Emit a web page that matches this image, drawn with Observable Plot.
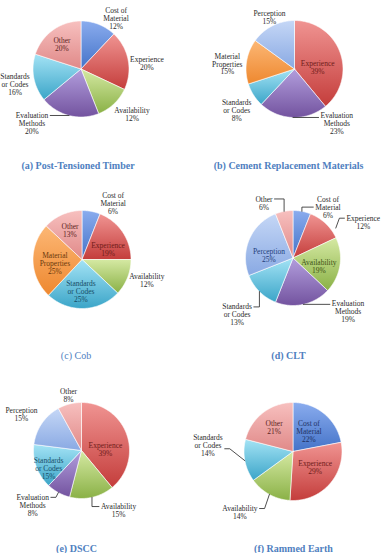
<!DOCTYPE html>
<html>
<head>
<meta charset="utf-8">
<script src="https://cdn.jsdelivr.net/npm/d3@7"></script>
<script src="https://cdn.jsdelivr.net/npm/@observablehq/plot@0.6"></script>
<style>
  body { margin: 0; background: #fff; }
  #chart svg { display: block; }
</style>
</head>
<body>
<div id="chart"></div>
<script>
// Barriers cited for each material (% of responses), listed clockwise from 12 o'clock
const panelTitles = [
  "(a) Post-Tensioned Timber",
  "(b) Cement Replacement Materials",
  "(c) Cob",
  "(d) CLT",
  "(e) DSCC",
  "(f) Rammed Earth"
];
const timberFactors = ["Cost of Material", "Experience", "Availability", "Evaluation Methods", "Standards or Codes", "Other"];
const timberShares  = [12, 20, 12, 20, 16, 20];
const cementFactors = ["Experience", "Evaluation Methods", "Standards or Codes", "Material Properties", "Perception"];
const cementShares  = [39, 23, 8, 15, 15];
const cobFactors    = ["Cost of Material", "Experience", "Availability", "Standards or Codes", "Material Properties", "Other"];
const cobShares     = [6, 19, 12, 25, 25, 13];
const cltFactors    = ["Cost of Material", "Experience", "Availability", "Evaluation Methods", "Standards or Codes", "Perception", "Other"];
const cltShares     = [6, 12, 19, 19, 13, 25, 6];
const dsccFactors   = ["Experience", "Availability", "Evaluation Methods", "Standards or Codes", "Perception", "Other"];
const dsccShares    = [39, 15, 8, 15, 15, 8];
const earthFactors  = ["Cost of Material", "Experience", "Availability", "Standards or Codes", "Other"];
const earthShares   = [22, 29, 14, 14, 21];

// how each factor name wraps in its label
const wrapped = {
  "Cost of Material": ["Cost of", "Material"],
  "Evaluation Methods": ["Evaluation", "Methods"],
  "Standards or Codes": ["Standards", "or Codes"],
  "Material Properties": ["Material", "Properties"]
};

// gradient top, gradient bottom, ink for labels sitting on the slice
const palette = {
  "Cost of Material":    ["#8aacee", "#4473c8", "#1e3163"],
  "Experience":          ["#f09492", "#c43d3b", "#6e1b19"],
  "Availability":        ["#d5e9a3", "#8ab146", "#3c5214"],
  "Evaluation Methods":  ["#b29edd", "#73539f", "#3a2460"],
  "Standards or Codes":  ["#a4e3f5", "#3ba5c8", "#174c66"],
  "Material Properties": ["#fcb775", "#ee882f", "#6a380c"],
  "Perception":          ["#c5d7f6", "#89a9e3", "#1f3d7a"],
  "Other":               ["#f7c0bf", "#e08988", "#5c2423"]
};
const categoryOrder = Object.keys(palette);

const panels = [
  {title: panelTitles[0], factors: timberFactors, shares: timberShares},
  {title: panelTitles[1], factors: cementFactors, shares: cementShares},
  {title: panelTitles[2], factors: cobFactors,    shares: cobShares},
  {title: panelTitles[3], factors: cltFactors,    shares: cltShares},
  {title: panelTitles[4], factors: dsccFactors,   shares: dsccShares},
  {title: panelTitles[5], factors: earthFactors,  shares: earthShares}
];

// panel geometry; label placement as [angle in degrees, distance in radii]
const frames = [
  {cx: 80.5, cy: 68.5, r: 48, tx: 77.5, ty: 165, bold: true,
   labels: [[34.5, 1.29], [84.8, 1.38], [132, 1.43], [222.2, 1.52], [257.2, 1.41], [321.6, 0.64]],
   leaders: {3: {kind: "h", side: 1}}},
  {cx: 294, cy: 68.5, r: 48.5, tx: 288, ty: 165, bold: true,
   labels: [[85, 0.48], [142.1, 1.42], [234.1, 1.47], [274.3, 1.39], [334.3, 1.19]],
   leaders: {1: {kind: "h", side: -1}}},
  {cx: 81.5, cy: 259, r: 49, tx: 75.5, ty: 355, bold: false,
   labels: [[29, 1.31], [69, 0.57], [107.9, 1.39], [181.8, 0.65], [261.6, 0.56], [337.5, 0.64]],
   leaders: {}},
  {cx: 292.5, cy: 257.5, r: 47.5, tx: 288, ty: 355, bold: true,
   labels: [[34.5, 1.30], [63, 1.66], [107.1, 0.57], [133.9, 1.61], [224.5, 1.68], [277.1, 0.51], [332.2, 1.31]],
   leaders: {
     0: {kind: "v", side: -1, line: 1},
     1: {kind: "d", side: -1, line: 0, from: [55, 1.1]},
     3: {kind: "h", side: -1},
     4: {kind: "v", side: 1, line: 0},
     6: {kind: "v", side: 1, line: 0}
   }},
  {cx: 81, cy: 450, r: 48, tx: 76, ty: 548, bold: true,
   labels: [[87.6, 0.5], [148.3, 1.47], [221.7, 1.53], [241.4, 0.78], [301, 1.46], [346.7, 1.18]],
   leaders: {1: {kind: "v", side: -1, line: 0}, 2: {kind: "d", side: 1, line: 0}}},
  {cx: 292.5, cy: 451, r: 49, tx: 293, ty: 548, bold: true,
   labels: [[38.7, 0.52], [126, 0.56], [221, 1.65], [274, 1.74], [321.6, 0.62]],
   leaders: {2: {kind: "d", side: 1, line: 0}, 3: {kind: "d", side: 1, line: 1.4}}}
];

const W = 381, H = 553;
const FONT = "Liberation Serif";
const FS = 7.5, LH = 8;
const rad = Math.PI / 180;
const ctx = document.createElement("canvas").getContext("2d");
ctx.font = `${FS}px '${FONT}'`;

const wedges = [], labels = [], leaders = [], titles = [];

panels.forEach((p, pi) => {
  const f = frames[pi];
  const pt = (t, k) => ({x: f.cx + k * f.r * Math.sin(t), y: f.cy - k * f.r * Math.cos(t)});
  const arcs = d3.pie().sort(null).value(d => d)(p.shares);
  arcs.forEach((a, i) => {
    const name = p.factors[i];
    const key = `${pi}-${i}`;
    const fill = `url(#fill-${categoryOrder.indexOf(name)})`;
    // wedge outline: centre, arc, back to centre
    wedges.push({key, fill, ...pt(0, 0)});
    const n = Math.max(2, Math.ceil((a.endAngle - a.startAngle) / rad));
    for (let j = 0; j <= n; j++) {
      wedges.push({key, fill, ...pt(a.startAngle + (a.endAngle - a.startAngle) * j / n, 1)});
    }
    wedges.push({key, fill, ...pt(0, 0)});

    const [deg, k] = f.labels[i];
    const lp = pt(deg * rad, k);
    const lines = [...(wrapped[name] || [name]), `${p.shares[i]}%`];
    labels.push({...lp, text: lines.join("\n"), ink: k < 1 ? palette[name][2] : "#2a2a2a"});

    const ld = f.leaders[i];
    if (ld) {
      const w = d3.max(lines, s => ctx.measureText(s).width);
      const mid = (a.startAngle + a.endAngle) / 2;
      const s = ld.from ? pt(ld.from[0] * rad, ld.from[1]) : pt(mid, 1);
      const ex = lp.x + ld.side * (w / 2 + 2);
      const ey = ld.kind === "h" ? s.y : lp.y + (ld.line - (lines.length - 1) / 2) * LH;
      const path = [s];
      if (ld.kind === "v") path.push({x: s.x, y: ey});
      if (ld.kind === "d") path.push({x: ex + ld.side * 5, y: ey});
      path.push({x: ex, y: ey});
      path.forEach(q => leaders.push({key, x: q.x, y: q.y}));
    }
  });
  titles.push({x: f.tx, y: f.ty, text: p.title, bold: f.bold});
});

const chart = Plot.plot({
  width: W,
  height: H,
  margin: 0,
  x: {domain: [0, W], range: [0, W], axis: null},
  y: {domain: [0, H], range: [0, H], axis: null},
  color: {type: "identity"},
  marks: [
    Plot.line(wedges, {x: "x", y: "y", z: "key", fill: "fill", stroke: "white", strokeWidth: 0.6, strokeLinejoin: "round"}),
    Plot.line(leaders, {x: "x", y: "y", z: "key", stroke: "#222", strokeWidth: 0.8}),
    Plot.text(labels, {x: "x", y: "y", text: "text", fill: "ink", fontSize: FS, lineHeight: LH / FS, fontFamily: FONT}),
    Plot.text(titles.filter(t => t.bold), {x: "x", y: "y", text: "text", fill: "#4f7fbf", fontSize: 10, fontWeight: "bold", fontFamily: FONT}),
    Plot.text(titles.filter(t => !t.bold), {x: "x", y: "y", text: "text", fill: "#4f7fbf", fontSize: 10, fontFamily: FONT})
  ]
});

// vertical shading used by the slices
const defs = d3.select(chart).insert("defs", ":first-child");
categoryOrder.forEach((name, i) => {
  const g = defs.append("linearGradient")
    .attr("id", `fill-${i}`)
    .attr("x1", 0).attr("y1", 0).attr("x2", 0).attr("y2", 1);
  g.append("stop").attr("offset", "0%").attr("stop-color", palette[name][0]);
  g.append("stop").attr("offset", "100%").attr("stop-color", palette[name][1]);
});

document.getElementById("chart").appendChild(chart);
</script>
</body>
</html>
